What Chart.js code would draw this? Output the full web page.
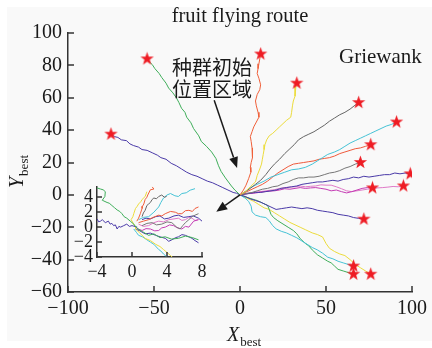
<!DOCTYPE html>
<html><head><meta charset="utf-8">
<script src="https://cdn.jsdelivr.net/npm/chart.js@4/dist/chart.umd.min.js"></script>
<style>
html,body{margin:0;padding:0;background:#fff;width:432px;height:348px;overflow:hidden}
#wrap{position:relative;width:432px;height:348px}
#main{position:absolute;left:0;top:0}
#inset{position:absolute;left:56px;top:172px}
</style></head>
<body><div id="wrap"><canvas id="main" width="432" height="348"></canvas><canvas id="inset" width="156" height="114"></canvas></div>
<script>
// ---- tick values ----
const xTicks = [-100, -50, 0, 50, 100];
const yTicks = [-60, -40, -20, 0, 20, 40, 60, 80, 100];
const insetXTicks = [-4, 0, 4, 8];
const insetYTicks = [-4, -2, 0, 2, 4];

// ---- main routes (start = star, end = origin) ----
const routeGreenNW = [[-54,84],[-52.5,82],[-51,80.5],[-49.5,78],[-47,75],[-45.5,72.5],[-43,69],[-41.5,66],[-39,63],[-37,60],[-35.5,57],[-34,53.5],[-32,51],[-31,48],[-28.5,44.5],[-27,41],[-24,36.5],[-22.5,33],[-19.5,30],[-16.5,26.5],[-14,22.5],[-12.5,18],[-11,14.5],[-8.5,10.5],[-5,5.5],[-3,3],[0,0]];
const routePurpleW = [[-75,37.5],[-73,36],[-71,35.5],[-69,34],[-66,33.5],[-64,31.5],[-62,30.5],[-59,29.5],[-57,28],[-54,27.5],[-51,26],[-48,24.5],[-46,23],[-43,22],[-40,19.5],[-37,18],[-34,16],[-31,14],[-28,12.5],[-25,11.5],[-22,10],[-19,8.5],[-16,7.5],[-13,6],[-10,4.5],[-7,3],[-4,1.5],[-2,1],[0,0]];
const routeRedN = [[12,87],[11.5,84],[11,81],[10.5,78],[10,75],[11,72],[12,68],[11.5,65],[10,62],[9,58],[9.5,55],[10.5,51],[11,48],[9.5,45],[8,42],[7,39],[6,36],[6.5,33],[7,29],[7.5,26],[7,23],[6.5,20],[6,17],[6.3,14],[5,10],[3.5,6],[2,3],[0,0]];
const routeYellowN = [[33,69],[32.5,67],[32,64],[32,61],[31,58],[30.5,55],[30,51],[29.5,48],[27,46],[25,44],[23,42],[21,40],[19,38],[17,36.5],[15.5,34],[14.5,31],[14,28],[13.5,25],[13,22],[12.5,19],[11.5,16],[10,12],[9,8],[6,5],[3,2],[0,0]];
const routeGrayNE = [[69,57],[67,55.5],[64,53],[61,51],[58,49.5],[55,47.5],[52,45.5],[49,43],[46,41],[43,39],[40,37.5],[37,36],[34,34],[31.5,31],[29,28.5],[26,25.5],[23,22],[20,19],[17.5,16],[15,12.5],[12,9],[9,6.5],[6,4],[3,2],[0,0]];
const routeCyanNE = [[91,45],[88,43.5],[85,42.5],[82,41],[79,39.5],[76,38],[73,36.5],[70,35],[67,33.5],[64,32],[61,30],[58,28],[55,26.5],[51,25],[48,23],[45,21],[42,19],[38,17],[34,16],[30,15.5],[26,14],[22,12.5],[18,11],[14,8.5],[10,6.5],[6,4.5],[3,2],[0,0]];
const routeOrangeE = [[76,31],[73,30],[70,29],[67,28.5],[64,27.5],[61,26.5],[58,25.5],[55,24],[52,23],[49,22.5],[46,22],[43,21],[40,20.5],[37,20],[34,19.5],[31,19],[28,17.5],[25,15.5],[22,13.5],[19,11],[16,8.5],[13,6.5],[10,5],[7,3.5],[4,2],[0,0]];
const routeGrayE = [[70,20],[67,19],[64,17.5],[61,16.5],[58,15],[55,14],[52,13.5],[49,12.5],[46,11.5],[43,11],[40,11],[37,10.5],[34,10.5],[31,9.5],[28,8],[25,7],[22,5.5],[19,5],[16,4],[13,3.5],[10,2.5],[7,1.5],[4,1],[0,0]];
const routePurpleE = [[99,13],[96,13.5],[93,13],[90,13.5],[87,12.5],[84,12.5],[81,12],[78,11.5],[75,11],[72,11.5],[69,10.5],[66,11],[63,10],[60,9.5],[57,8.5],[54,9],[51,8.5],[48,8],[45,8],[42,7.5],[39,7],[36,6.5],[33,5.5],[30,5],[27,4.5],[24,4],[21,3],[18,2.5],[15,2],[12,1.5],[9,1.5],[6,1],[3,0.5],[0,0]];
const routeMagenta = [[77,4.3],[74,4.5],[71,4],[68,3],[65,2],[62,1.2],[59,2],[56,3],[53,2.5],[50,3.5],[47,4],[44,4.5],[41,4.3],[38,4],[35,4.5],[32,4],[29,3.5],[26,3.8],[23,3],[20,2.5],[17,2.3],[14,2],[11,1.5],[8,1],[5,0.8],[2,0.3],[0,0]];
const routePink = [[95,5.5],[92,5],[89,5.2],[86,4.8],[83,4.5],[80,4.3],[77,4],[74,3.5],[71,3],[68,2.5],[65,2],[62,2.5],[59,3.8],[56,5],[53,6],[50,6],[47,6.2],[44,5.5],[41,5.3],[38,5],[35,5.5],[32,5],[29,4.8],[26,4.5],[23,4],[20,3.2],[17,2.8],[14,2.3],[11,2],[8,1.5],[5,1],[2,0.5],[0,0]];
const routePurpleSE = [[72,-15],[69,-14.5],[66,-14],[63,-13],[60,-12.5],[57,-12],[54,-11],[51,-10.5],[48,-10],[45,-9.5],[42,-8.5],[39,-8],[36,-8.5],[33,-8],[30,-7.5],[27,-8],[24,-8.5],[21,-9],[18,-7.5],[15,-6],[12,-4.5],[9,-3.5],[6,-2.5],[3,-1],[0,0]];
const routeCyanSE = [[66,-44],[63,-43],[60,-42],[57,-41],[54,-39.5],[51,-38.5],[48,-36],[45,-34],[42,-32.5],[39,-30.5],[36,-28.5],[33,-26.5],[30,-25],[27,-23.5],[24,-22.5],[21,-21],[19,-19],[17,-16],[15,-14],[12,-13.5],[9,-12.5],[7,-10.5],[6.5,-7],[5,-4],[3,-2],[0,0]];
const routeGreenSE = [[66,-49],[63,-48],[60,-47],[57,-46],[55,-44],[53,-42],[51,-41],[48,-39],[45,-37],[42,-34],[40,-31.5],[38,-30],[35,-27],[33,-24],[31,-22],[28,-20],[25,-18],[22,-16],[19.5,-14],[18,-12],[17,-9],[16,-6.5],[13,-5],[10,-3.5],[7,-2.5],[4,-1.5],[0,0]];
const routeYellowSE = [[76,-49],[73,-47],[70,-45],[67,-43],[64,-40],[61,-37.5],[58,-36.5],[55,-35],[52,-33],[50,-30],[48,-26],[45,-24.5],[42,-23.5],[38,-21.5],[35,-20],[32,-18.5],[29,-17],[26,-15],[23,-13],[20,-11],[17,-9],[14,-8],[11,-6],[8,-4],[5,-2.5],[2,-1],[0,0]];

// ---- inset routes (zoom of start region) ----
const insetGreenNW = [[-4,5.25],[-3.6,5.1],[-3.3,5.0],[-3.05,4.75],[-3.1,4.1],[-3.4,3.6],[-2.85,3.3],[-2.6,3.2],[-2.3,2.9],[-2,2.6],[-1.7,2.3],[-1.4,2.1],[-1.15,1.8],[-0.9,1.4],[-0.6,1.2],[-0.2,0.8],[0.2,0.4]];
const insetGreenSE = [[0.2,0.4],[0.6,-0.2],[1.2,-0.6],[1.9,-1.1],[2.5,-0.9],[3.2,-1.4],[3.8,-1.3],[4.5,-1.6],[5.3,-1.5],[6.1,-1.2],[6.9,-1.4],[7.6,-1.7]];
const insetPurpleW = [[-4,1.1],[-3.8,0.7],[-3.6,0.8],[-3.4,1.0],[-3.05,0.6],[-2.7,0.8],[-2.5,0.4],[-2.3,0.5],[-2.1,0.2],[-1.9,0.3],[-1.7,-0.25],[-1.5,0.1],[-1.3,0],[-0.95,0.2],[-0.6,0.4],[-0.3,0.1],[0,0.2],[0.6,0]];
const insetYellowN = [[1.7,4.75],[1.5,4.1],[1.15,3.7],[1.0,3.4],[0.75,3.1],[0.6,2.8],[0.4,2.5],[0.2,1.8],[0.1,1.4],[-0.1,1.0],[0.2,0.4],[0.4,0]];
const insetYellowSE = [[0.4,0],[0.4,-0.25],[0.9,-0.8],[1.5,-1.5],[2.1,-1.8],[2.7,-2.3],[3.2,-2.6],[3.6,-3.0],[4.0,-3.4],[4.4,-3.8],[4.95,-4.4]];
const insetRedN = [[2.3,5.4],[2.5,5.1],[2.1,5.0],[1.8,4.3],[1.7,4.0],[1.5,3.7],[1.35,3.1],[1.2,2.8],[1.15,2.5],[0.95,1.8],[0.75,1.2],[0.55,0.8]];
const insetRedE = [[0.75,0.6],[1.3,0.8],[1.9,1.0],[2.4,1.3],[3.05,1.6],[3.4,1.5],[3.8,1.8],[4.4,2.1],[4.95,2.0],[5.3,1.8],[5.7,1.8],[6.1,2.2],[6.5,2.25],[6.9,2.1],[7.2,2.5],[7.6,2.7]];
const insetGrayN = [[1.15,1.4],[1.3,1.9],[1.5,2.25],[1.7,2.9],[1.9,3.1],[2.1,3.3],[2.3,3.7],[2.5,3.9],[2.8,3.8],[3.05,4.1],[3.4,4.3],[3.7,4.0],[3.95,4.1]];
const insetCyanNE = [[0.75,1.0],[1.3,1.3],[1.9,1.4],[2.5,2.0],[3.05,2.7],[3.3,3.3],[3.6,3.9],[4.0,4.3],[4.4,4.5],[4.9,4.2],[5.3,4.1],[5.7,4.5],[6.2,4.6],[6.65,4.95],[7.2,5.15]];
const insetCyanSE = [[0.2,-0.25],[0.5,-0.7],[0.75,-1.1],[1.2,-1.3],[1.7,-1.7],[2.1,-2.0],[2.5,-2.3],[3.05,-3.0],[3.3,-3.2],[3.6,-3.6],[4.2,-4.2]];
const insetGrayE = [[1.15,0.2],[1.7,0.5],[2.3,0.6],[2.8,0.3],[3.4,0.4],[4.0,0.7],[4.55,0.6],[5.1,0],[5.5,-0.25],[5.8,0.2],[6.1,0.6],[6.5,1.0],[6.85,1.4],[7.2,1.6],[7.6,1.8]];
const insetMagenta = [[0.4,0],[0.8,-0.3],[1.15,-0.45],[1.6,-0.2],[2.1,-0.25],[2.6,-0.5],[3.05,-0.45],[3.4,-0.1],[3.8,0],[4.3,0.3],[4.75,0.2],[5.2,-0.1],[5.7,-0.25],[6.1,0.1],[6.5,0],[7.05,0.8],[7.6,1.0]];
const insetPink = [[0.75,0.4],[1.3,0.1],[1.9,0.2],[2.5,0.6],[3.05,0.8],[3.6,0.7],[4.2,1.0],[4.8,1.1],[5.3,1.2],[5.7,0.9],[6.1,1.0],[6.5,1.3],[6.85,1.2],[7.2,0.9],[7.6,1.0]];
const insetPurpleSE = [[0.4,-0.25],[0.9,-0.5],[1.5,-0.9],[2.1,-0.8],[2.7,-1.1],[3.2,-1.3],[3.8,-1.5],[4.2,-1.9],[4.55,-1.7],[5.0,-1.4],[5.3,-1.3],[5.7,-1.0],[6.1,-1.1],[6.5,-1.3],[6.85,-1.5],[7.2,-1.8],[7.6,-2.1]];
const insetPurpleE = [[1.15,1.0],[1.6,1.2],[2.1,1.1],[2.7,1.4],[3.2,1.5],[3.7,1.1],[4.2,1.2],[4.8,1.5],[5.3,1.6],[5.9,1.3],[6.5,1.4],[7.0,1.5],[7.6,1.2],[8.0,0.8]];

// ---- styles ----
const C = {green:'#3fae5a', purple:'#4a3aa8', red:'#f0603a', yellow:'#ecdc3c', gray:'#666666', cyan:'#46c3d6', orange:'#ef5a3c', gray2:'#777777', magenta:'#c43cb4', pink:'#e07ac8'};
const mainRoutes = [
  [routeGreenNW, C.green],[routePurpleW, C.purple],[routeRedN, C.red],[routeYellowN, C.yellow],
  [routeGrayNE, C.gray],[routeCyanNE, C.cyan],[routeOrangeE, C.orange],[routeGrayE, C.gray2],
  [routePurpleE, C.purple],[routeMagenta, C.magenta],[routePink, C.pink],[routePurpleSE, C.purple],
  [routeCyanSE, C.cyan],[routeGreenSE, C.green],[routeYellowSE, C.yellow]
];
const insetRoutes = [
  [insetGreenNW, C.green],[insetGreenSE, C.green],[insetPurpleW, C.purple],[insetYellowN, C.yellow],
  [insetYellowSE, C.yellow],[insetRedN, C.red],[insetRedE, C.orange],[insetGrayN, C.gray],
  [insetCyanNE, C.cyan],[insetCyanSE, C.cyan],[insetGrayE, C.gray2],[insetMagenta, C.magenta],
  [insetPink, C.pink],[insetPurpleSE, C.purple],[insetPurpleE, C.purple]
];

const SERIF = "'Liberation Serif','Times New Roman',serif";
const toXY = arr => arr.map(p => ({x:p[0], y:p[1]}));
const minus = v => String(v).replace('-', '\u2212');

// star marker image
const star = document.createElement('canvas');
star.width = 15; star.height = 15;
(function(){
  const c = star.getContext('2d'); c.fillStyle = '#ee1c24'; c.beginPath();
  for (let i = 0; i < 10; i++) {
    const r = i % 2 ? 2.8 : 7, a = -Math.PI/2 + i*Math.PI/5;
    const px = 7.5 + r*Math.cos(a), py = 7.5 + r*Math.sin(a);
    i ? c.lineTo(px, py) : c.moveTo(px, py);
  }
  c.closePath(); c.fill();
})();

function inwardTicks(len, width, color) {
  return {
    id: 'inwardTicks',
    afterDraw(chart) {
      const ctx = chart.ctx, a = chart.chartArea, sx = chart.scales.x, sy = chart.scales.y;
      ctx.save(); ctx.strokeStyle = color; ctx.lineWidth = width;
      sx.ticks.forEach(t => { const p = Math.round(sx.getPixelForValue(t.value)); ctx.beginPath(); ctx.moveTo(p, a.bottom); ctx.lineTo(p, a.bottom - len); ctx.stroke(); });
      sy.ticks.forEach(t => { const p = Math.round(sy.getPixelForValue(t.value)); ctx.beginPath(); ctx.moveTo(a.left, p); ctx.lineTo(a.left + len, p); ctx.stroke(); });
      ctx.restore();
    }
  };
}

function arrow(ctx, x1, y1, x2, y2) {
  const ang = Math.atan2(y2 - y1, x2 - x1), L = 11, W = 4.5;
  const bx = x2 - L*Math.cos(ang), by = y2 - L*Math.sin(ang);
  ctx.beginPath(); ctx.moveTo(x1, y1); ctx.lineTo(bx, by); ctx.stroke();
  ctx.beginPath(); ctx.moveTo(x2, y2);
  ctx.lineTo(bx + W*Math.sin(ang), by - W*Math.cos(ang));
  ctx.lineTo(bx - W*Math.sin(ang), by + W*Math.cos(ang));
  ctx.closePath(); ctx.fill();
}

const background = {
  id: 'background',
  beforeDraw(chart) {
    const ctx = chart.ctx; ctx.save();
    ctx.fillStyle = '#ffffff'; ctx.fillRect(0, 0, chart.width, chart.height);
    ctx.fillStyle = '#f9f9f9'; ctx.fillRect(7, 7, chart.width - 7, chart.height - 14);
    ctx.restore();
  }
};

const texts = {
  id: 'texts',
  afterDraw(chart) {
    const ctx = chart.ctx, sx = chart.scales.x, sy = chart.scales.y, a = chart.chartArea;
    ctx.save();
    ctx.fillStyle = '#1a1a1a'; ctx.strokeStyle = '#1a1a1a';
    ctx.textBaseline = 'alphabetic';
    // title
    ctx.font = '20.5px ' + SERIF; ctx.textAlign = 'center';
    ctx.fillText('fruit flying route', (a.left + a.right)/2, 22);
    // function name
    ctx.textAlign = 'left'; ctx.font = '21px ' + SERIF;
    ctx.fillText('Griewank', 339, 63);
    // chinese annotation
    ctx.font = "20px 'Noto Sans CJK SC'"; ctx.textBaseline = 'middle';
    ctx.fillText('种群初始', 172, 67);
    ctx.fillText('位置区域', 172, 89);
    // arrows
    ctx.lineWidth = 1.5;
    arrow(ctx, sx.getPixelForValue(-15), sy.getPixelForValue(58.5), sx.getPixelForValue(-1.7), sy.getPixelForValue(16.6));
    arrow(ctx, sx.getPixelForValue(0), sy.getPixelForValue(0), sx.getPixelForValue(-13.8), sy.getPixelForValue(-10.5));
    // x axis title
    ctx.textBaseline = 'alphabetic'; ctx.textAlign = 'left';
    ctx.font = 'italic 20px ' + SERIF;
    const xw = ctx.measureText('X').width;
    ctx.fillText('X', 227, 341);
    ctx.font = '13px ' + SERIF;
    ctx.fillText('best', 227 + xw + 1, 346);
    // y axis title
    ctx.translate(23, 188); ctx.rotate(-Math.PI/2);
    ctx.font = 'italic 20px ' + SERIF;
    const yw = ctx.measureText('Y').width;
    ctx.fillText('Y', 0, 0);
    ctx.font = '13px ' + SERIF;
    ctx.fillText('best', yw + 1, 5);
    ctx.restore();
  }
};

Chart.defaults.font.family = SERIF;
Chart.defaults.color = '#1a1a1a';

const mainDatasets = [{
  data: mainRoutes.map(r => ({x: r[0][0][0], y: r[0][0][1]})),
  showLine: false, pointStyle: star, pointRadius: 7, pointHoverRadius: 7
}].concat(mainRoutes.map(r => ({
  data: toXY(r[0]), borderColor: r[1], borderWidth: 1, showLine: true, pointRadius: 0, tension: 0
})));

new Chart(document.getElementById('main'), {
  type: 'scatter',
  data: { datasets: mainDatasets },
  options: {
    responsive: false, animation: false, events: [],
    layout: { padding: { top: 33, right: 16, left: 0, bottom: 0 } },
    plugins: { legend: { display: false }, tooltip: { enabled: false } },
    scales: {
      x: {
        type: 'linear', min: -100, max: 100,
        afterBuildTicks: s => { s.ticks = xTicks.map(v => ({value: v})); },
        afterFit: s => { s.height = 56; },
        grid: { display: false, drawTicks: false },
        border: { display: true, color: '#333', width: 1.5 },
        ticks: { padding: 5, font: { size: 20 }, color: '#1a1a1a', maxRotation: 0, autoSkip: false, callback: v => minus(v) }
      },
      y: {
        type: 'linear', min: -60, max: 100,
        afterBuildTicks: s => { s.ticks = yTicks.map(v => ({value: v})); },
        afterFit: s => { s.width = 68; },
        grid: { display: false, drawTicks: false },
        border: { display: true, color: '#333', width: 1.5 },
        ticks: { padding: 6, font: { size: 20 }, color: '#1a1a1a', autoSkip: false, callback: v => minus(v) }
      }
    }
  },
  plugins: [background, inwardTicks(6, 1.5, '#333'), texts]
});

new Chart(document.getElementById('inset'), {
  type: 'scatter',
  data: { datasets: insetRoutes.map(r => ({
    data: toXY(r[0]), borderColor: r[1], borderWidth: 1, showLine: true, pointRadius: 0, tension: 0
  })) },
  options: {
    responsive: false, animation: false, events: [],
    layout: { padding: { top: 0, right: 10, left: 0, bottom: 0 } },
    plugins: { legend: { display: false }, tooltip: { enabled: false } },
    scales: {
      x: {
        type: 'linear', min: -4, max: 8,
        afterBuildTicks: s => { s.ticks = insetXTicks.map(v => ({value: v})); },
        afterFit: s => { s.height = 29; },
        grid: { display: false, drawTicks: false },
        border: { display: true, color: '#333', width: 1.5 },
        ticks: { padding: 4, font: { size: 18 }, color: '#1a1a1a', maxRotation: 0, autoSkip: false, callback: v => minus(v) }
      },
      y: {
        type: 'linear', min: -4, max: 5.4,
        afterBuildTicks: s => { s.ticks = insetYTicks.map(v => ({value: v})); },
        afterFit: s => { s.width = 41; },
        grid: { display: false, drawTicks: false },
        border: { display: true, color: '#333', width: 1.5 },
        ticks: { padding: 4, font: { size: 18 }, color: '#1a1a1a', autoSkip: false, callback: v => minus(v) }
      }
    }
  },
  plugins: [inwardTicks(5, 1.5, '#333')]
});
</script>
</body></html>
